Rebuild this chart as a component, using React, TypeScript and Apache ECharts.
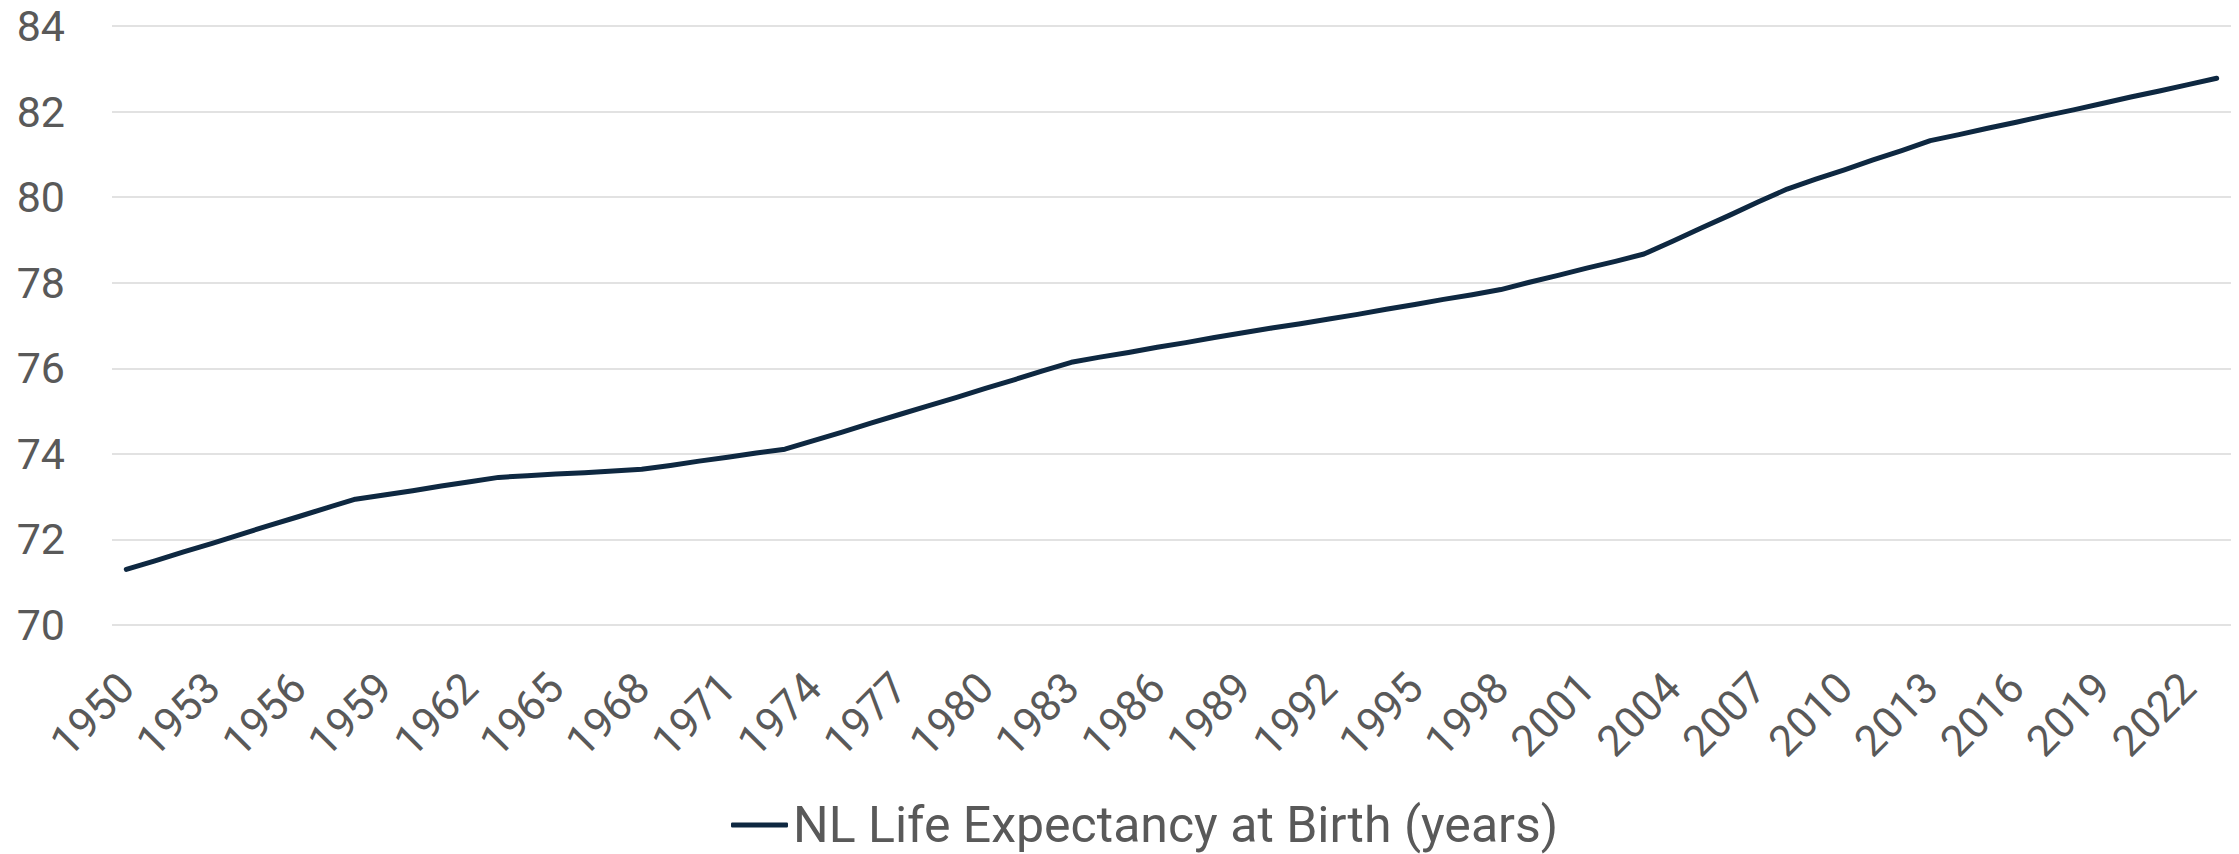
import React, { useEffect, useRef } from "react";
import * as echarts from "echarts";

const FONT = "Roboto, 'Liberation Sans', Arial, sans-serif";
const SERIES_NAME = "NL Life Expectancy at Birth (years)";

// Categories: every year 1950..2023
const years: string[] = Array.from({ length: 74 }, (_, i) => String(1950 + i));

// Values, one per year 1950..2023
const lifeExpectancy: number[] = [
  71.3, 71.5, 71.71, 71.91, 72.12, 72.33, 72.53, 72.74, 72.94, 73.04,
  73.14, 73.25, 73.35, 73.45, 73.49, 73.53, 73.56, 73.6, 73.64, 73.73,
  73.83, 73.92, 74.02, 74.11, 74.31, 74.51, 74.72, 74.92, 75.12, 75.32,
  75.53, 75.73, 75.94, 76.14, 76.26, 76.37, 76.49, 76.6, 76.72, 76.83,
  76.94, 77.04, 77.15, 77.26, 77.38, 77.49, 77.61, 77.72, 77.84, 78.01,
  78.17, 78.34, 78.5, 78.67, 78.97, 79.28, 79.58, 79.89, 80.19, 80.42,
  80.64, 80.87, 81.09, 81.32, 81.46, 81.61, 81.75, 81.9, 82.04, 82.19,
  82.34, 82.48, 82.63, 82.78,
];

const Y_MIN = 70;
const Y_MAX = 84;
const Y_STEP = 2;

export default function App() {
  const ref = useRef<HTMLDivElement>(null);

  useEffect(() => {
    if (!ref.current) return;
    const chart = echarts.init(ref.current, undefined, { renderer: "svg" });
    chart.setOption({
      animation: false,
      backgroundColor: "#ffffff",
      textStyle: { fontFamily: FONT },
      grid: { left: 112, right: 8, top: 26, bottom: 229 },
      xAxis: {
        type: "category",
        data: years,
        boundaryGap: true,
        axisLine: { show: false },
        axisTick: { show: false },
        splitLine: { show: false },
        axisLabel: {
          interval: 2,
          rotate: 45,
          margin: 55,
          fontSize: 43,
          lineHeight: 43,
          color: "#595959",
          fontFamily: FONT,
        },
      },
      yAxis: {
        type: "value",
        min: Y_MIN,
        max: Y_MAX,
        interval: Y_STEP,
        axisLine: { show: false },
        axisTick: { show: false },
        axisLabel: { margin: 47, fontSize: 43, lineHeight: 43, color: "#595959", fontFamily: FONT },
        splitLine: { lineStyle: { color: "#D9D9D9", width: 1.5 } },
      },
      legend: {
        left: 726,
        top: 795,
        icon: "roundRect",
        itemWidth: 57,
        itemHeight: 5,
        textStyle: { fontSize: 50, lineHeight: 50, color: "#595959", fontFamily: FONT },
        data: [{ name: SERIES_NAME }],
      },
      series: [
        {
          name: SERIES_NAME,
          type: "line",
          data: lifeExpectancy,
          symbol: "none",
          showSymbol: false,
          lineStyle: { color: "#0E2841", width: 5, cap: "round", join: "round" },
          itemStyle: { color: "#0E2841" },
        },
      ],
    });
    return () => chart.dispose();
  }, []);

  return (
    <div
      ref={ref}
      style={{ position: "fixed", left: 0, top: 0, width: 2239, height: 854, background: "#fff" }}
    />
  );
}
